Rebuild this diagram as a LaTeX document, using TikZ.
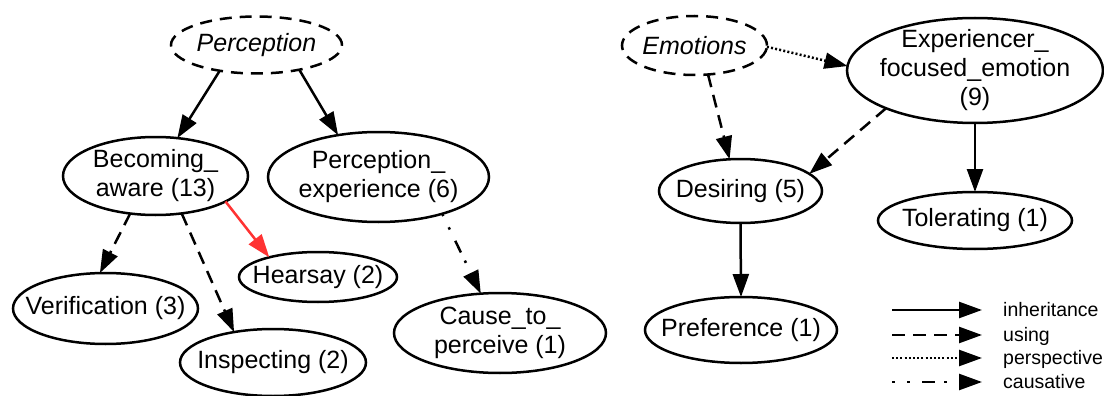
\documentclass[tikz,border=0pt]{standalone}
\usepackage{fontspec}
\setmainfont{Liberation Sans}
\usetikzlibrary{arrows.meta,shapes.geometric}
\definecolor{edgered}{RGB}{255,51,51}
\begin{document}
\begin{tikzpicture}[x=1pt,y=-1pt,
  ell/.style={draw, ellipse, line width=2.5pt, inner sep=0pt, outer sep=0pt},
  absframe/.style={ell, dash pattern=on 12pt off 8pt},
  lab/.style={align=center, inner sep=0pt, font=\fontsize{25}{29}\selectfont},
  ilab/.style={align=center, inner sep=0pt, font=\fontsize{25}{29}\selectfont\itshape},
  rel/.style={line width=2.5pt, -{Triangle[length=23pt,width=16pt]}},
  usingrel/.style={rel, dash pattern=on 13pt off 8pt},
  persprel/.style={rel, dash pattern=on 2pt off 2.2pt},
  causrel/.style={rel, dash pattern=on 2.5pt off 12.5pt on 2.5pt off 12.5pt on 13pt off 9pt},
  lgd/.style={anchor=base west, inner sep=0pt, font=\fontsize{19.5}{22}\selectfont}
]
\useasboundingbox (0,0) rectangle (1104,396);

% left cluster
\node[absframe, minimum width=171pt, minimum height=57pt, label={[ilab]center:Perception}] (perc) at (256.5,45) {};
\node[ell, minimum width=185pt, minimum height=78pt, label={[lab]center:{Becoming\_\\aware (13)}}] (becoming) at (155.5,176) {};
\node[ell, minimum width=221pt, minimum height=90pt, label={[lab]center:{Perception\_\\experience (6)}}] (pexp) at (378.5,177) {};
\node[ell, minimum width=158pt, minimum height=50pt, label={[lab]center:Hearsay (2)}] (hearsay) at (318,277) {};
\node[ell, minimum width=185pt, minimum height=71pt, label={[lab]center:Verification (3)}] (verif) at (105.5,308.5) {};
\node[ell, minimum width=186pt, minimum height=67pt, label={[lab]center:Inspecting (2)}] (inspect) at (273,362.5) {};
\node[ell, minimum width=212pt, minimum height=80pt, label={[lab]center:{Cause\_to\_\\perceive (1)}}] (cause) at (500,333) {};

% right cluster
\node[absframe, minimum width=145pt, minimum height=59pt, label={[ilab]center:Emotions}] (emotions) at (694.5,45.5) {};
\node[ell, minimum width=256pt, minimum height=105pt, label={[lab]center:{Experiencer\_\\focused\_emotion\\(9)}}] (exper) at (975,70.5) {};
\node[ell, minimum width=163pt, minimum height=64pt, label={[lab]center:Desiring (5)}] (desiring) at (740.5,191) {};
\node[ell, minimum width=194pt, minimum height=57pt, label={[lab]center:Tolerating (1)}] (tolerating) at (975,220.5) {};
\node[ell, minimum width=192pt, minimum height=66pt, label={[lab]center:Preference (1)}] (preference) at (741,330) {};

% edges
\draw[rel] (perc.-145.6) -- (becoming.60);
\draw[rel] (perc.-30.9) -- (pexp.134.6);
\draw[usingrel] (becoming.-124.8) -- (verif.99.8);
\draw[usingrel] (becoming.-55.2) -- (inspect.142);
\draw[rel, color=edgered] (becoming.-20.7) -- (hearsay.158.2);
\draw[causrel] (pexp.-30) -- (cause.116.6);
\draw[persprel] (emotions.-1.2) -- (exper.178.9);
\draw[usingrel] (emotions.-65.4) -- (desiring.109.8);
\draw[usingrel] (exper.-157.8) -- (desiring.14.5);
\draw[rel] (exper.south) -- (tolerating.north);
\draw[rel] (desiring.south) -- (preference.north);

% legend
\coordinate (la1) at (892,310); \coordinate (lb1) at (982,310);
\coordinate (la2) at (892,335); \coordinate (lb2) at (982,335);
\coordinate (la3) at (892,358); \coordinate (lb3) at (982,358);
\coordinate (la4) at (892,382); \coordinate (lb4) at (982,382);
\draw[rel] (la1) -- (lb1);
\draw[usingrel] (la2) -- (lb2);
\draw[persprel] (la3) -- (lb3);
\draw[causrel] (la4) -- (lb4);
\node[lgd] (lt1) at (1003,316) {inheritance};
\node[lgd] (lt2) at (1003,341) {using};
\node[lgd] (lt3) at (1003,364) {perspective};
\node[lgd] (lt4) at (1003,388) {causative};
\end{tikzpicture}
\end{document}
